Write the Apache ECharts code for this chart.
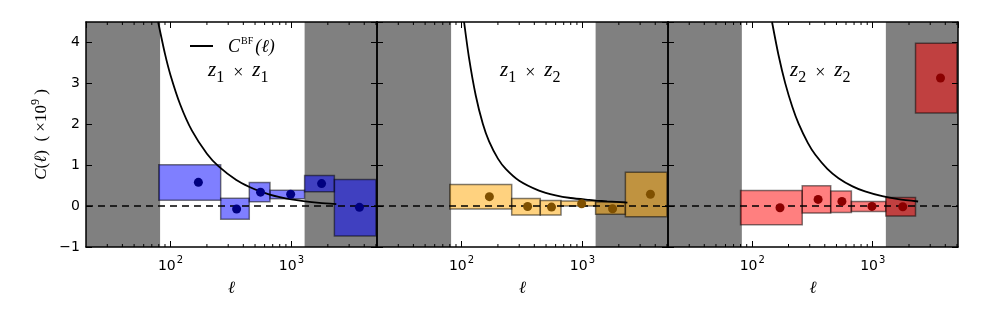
<!DOCTYPE html>
<html>
<head>
<meta charset="utf-8">
<script src="https://cdn.jsdelivr.net/npm/echarts@6/dist/echarts.min.js"></script>
<style>
html,body{margin:0;padding:0;background:#fff;}
#chart{width:981px;height:327px;}
</style>
</head>
<body>
<div id="chart"></div>
<script>
// ---------- data ----------
const ellCenters = [170, 352, 555, 985, 1775, 3650];
const binLo = [80, 260, 448, 665, 1285, 2265];
const binHi = [260, 448, 665, 1285, 2265, 5000];

const c11 = [0.58, -0.07, 0.34, 0.29, 0.55, -0.03];
const c11Lo = [0.14, -0.32, 0.105, 0.178, 0.35, -0.73];
const c11Hi = [1.01, 0.19, 0.578, 0.39, 0.748, 0.65];

const c12 = [0.23, -0.01, -0.024, 0.056, -0.065, 0.29];
const c12Lo = [-0.073, -0.22, -0.22, 0.0, -0.2, -0.26];
const c12Hi = [0.529, 0.187, 0.138, 0.125, 0.1, 0.83];

const c22 = [-0.04, 0.163, 0.114, -0.008, -0.016, 3.13];
const c22Lo = [-0.455, -0.171, -0.154, -0.13, -0.244, 2.276];
const c22Hi = [0.382, 0.496, 0.366, 0.114, 0.211, 3.98];

const bfEll11 = [79, 90, 100, 120, 150, 200, 250, 350, 450, 550, 662, 800, 1000, 1300, 1700, 2350];
const bfC11 = [4.5, 3.72, 3.2, 2.49, 1.85, 1.28, 0.97, 0.637, 0.466, 0.36, 0.283, 0.22, 0.163, 0.113, 0.078, 0.049];
const bfEll12 = [105, 115, 131, 150, 169, 200, 232, 300, 437, 600, 800, 1135, 1300, 1600, 2355];
const bfC12 = [4.5, 3.65, 2.71, 2.01, 1.58, 1.16, 0.91, 0.62, 0.38, 0.264, 0.198, 0.15, 0.135, 0.115, 0.085];
const bfEll22 = [146, 165, 188, 215, 243, 290, 334, 420, 520, 680, 863, 1200, 1626, 2380];
const bfC22 = [4.5, 3.70, 3.0, 2.43, 2.01, 1.54, 1.255, 0.911, 0.683, 0.482, 0.358, 0.241, 0.170, 0.112];

const maskLo = [20, 82];
const maskHi = [1285, 5100];

const xMin = 20, xMax = 5100;
const yMin = -1, yMax = 4.5;
const minorTicks = [30, 40, 50, 60, 70, 80, 90, 200, 300, 400, 500, 600, 700, 800, 900, 2000, 3000, 4000, 5000];
const panelLabels = [['1', '1'], ['1', '2'], ['2', '2']];
const legendName = 'CBF';

// ---------- styles ----------
const grids = [
  {left: 86, top: 22, width: 291, height: 225},
  {left: 377, top: 22, width: 291, height: 225},
  {left: 668, top: 22, width: 290, height: 225}
];
const boxFill = ['rgba(0,0,255,0.5)', 'rgba(255,165,0,0.5)', 'rgba(255,0,0,0.5)'];
const dotColor = ['#000080', '#7f5000', '#8b0000'];
const panels = [
  {c: c11, lo: c11Lo, hi: c11Hi, bx: bfEll11, by: bfC11},
  {c: c12, lo: c12Lo, hi: c12Hi, bx: bfEll12, by: bfC12},
  {c: c22, lo: c22Lo, hi: c22Hi, bx: bfEll22, by: bfC22}
];
const labelPos = [[208, 60], [500, 60], [790, 60]];

const mathFont = '"Liberation Serif", "DejaVu Serif", serif';
const sansFont = '"DejaVu Sans", sans-serif';

const axisLineStyle = {show: true, onZero: false, lineStyle: {color: '#000', width: 1.5}};
const axisTickStyle = {show: true, inside: true, length: 6, lineStyle: {color: '#000', width: 1}};

const xAxes = [], yAxes = [], series = [];
grids.forEach((g, i) => {
  xAxes.push({
    type: 'log', logBase: 10, min: xMin, max: xMax, gridIndex: i, z: 10, position: 'bottom',
    splitLine: {show: false}, axisLine: axisLineStyle, axisTick: axisTickStyle,
    name: '{l|ℓ}', nameLocation: 'middle', nameGap: 33,
    nameTextStyle: {rich: {l: {fontFamily: mathFont, fontStyle: 'italic', fontSize: 17, color: '#000'}}},
    axisLabel: {
      show: true, margin: 8, showMinLabel: false, showMaxLabel: false,
      formatter: v => '{b|10}{s|' + Math.round(Math.log10(v)) + '}',
      rich: {
        b: {fontFamily: sansFont, fontSize: 14, color: '#000', verticalAlign: 'bottom', lineHeight: 18},
        s: {fontFamily: sansFont, fontSize: 10, color: '#000', verticalAlign: 'top', lineHeight: 18, padding: [0, 0, 0, 1]}
      }
    }
  });
});
grids.forEach((g, i) => {
  xAxes.push({
    type: 'log', logBase: 10, min: xMin, max: xMax, gridIndex: i, z: 10, position: 'top',
    splitLine: {show: false}, axisLine: axisLineStyle, axisTick: axisTickStyle,
    axisLabel: {show: false}
  });
});
grids.forEach((g, i) => {
  yAxes.push({
    type: 'value', min: yMin, max: yMax, interval: 1, gridIndex: i, z: 10, position: 'left',
    splitLine: {show: false}, axisLine: axisLineStyle, axisTick: axisTickStyle,
    axisLabel: {
      show: i === 0, margin: 6, showMaxLabel: false,
      fontFamily: sansFont, fontSize: 14, color: '#000',
      formatter: v => (v < 0 ? '\u2212' + Math.abs(v) : String(v))
    },
    name: i === 0 ? '{i|C}{n|(}{i|ℓ}{n|)  ( ×10}{s|9}{n| )}' : '',
    nameLocation: 'middle', nameRotate: 90, nameGap: 36,
    nameTextStyle: {rich: {
      i: {fontFamily: mathFont, fontStyle: 'italic', fontSize: 17, color: '#000', verticalAlign: 'bottom', lineHeight: 20},
      n: {fontFamily: mathFont, fontSize: 17, color: '#000', verticalAlign: 'bottom', lineHeight: 20},
      s: {fontFamily: mathFont, fontSize: 12, color: '#000', verticalAlign: 'top', lineHeight: 20}
    }}
  });
});
grids.forEach((g, i) => {
  yAxes.push({
    type: 'value', min: yMin, max: yMax, interval: 1, gridIndex: i, z: 10, position: 'right',
    splitLine: {show: false}, axisLine: axisLineStyle, axisTick: axisTickStyle,
    axisLabel: {show: false}
  });
});

function rectItem(params, api, style) {
  const p0 = api.coord([api.value(0), api.value(3)]);
  const p1 = api.coord([api.value(1), api.value(2)]);
  const cs = params.coordSys;
  const shape = echarts.graphic.clipRectByRect(
    {x: p0[0], y: p0[1], width: p1[0] - p0[0], height: p1[1] - p0[1]},
    {x: cs.x, y: cs.y, width: cs.width, height: cs.height});
  return shape && {type: 'rect', shape: shape, style: style};
}

panels.forEach((p, i) => {
  series.push({
    type: 'custom', xAxisIndex: i, yAxisIndex: i, z: 1, silent: true,
    data: [[maskLo[0], maskLo[1], yMin, yMax], [maskHi[0], maskHi[1], yMin, yMax]],
    renderItem: (params, api) => rectItem(params, api, {fill: '#808080'})
  });
  series.push({
    type: 'custom', xAxisIndex: i, yAxisIndex: i, z: 2,
    data: binLo.map((lo, k) => [lo, binHi[k], p.lo[k], p.hi[k]]),
    renderItem: (params, api) => rectItem(params, api, {fill: boxFill[i], stroke: 'rgba(0,0,0,0.5)', lineWidth: 1.5})
  });
  series.push({
    type: 'line', xAxisIndex: i, yAxisIndex: i, z: 3, symbol: 'none', silent: true,
    data: [[xMin, 0], [xMax, 0]],
    lineStyle: {color: '#000', width: 1.5, type: [7, 5]}
  });
  series.push({
    type: 'line', name: i === 0 ? legendName : undefined, xAxisIndex: i, yAxisIndex: i, z: 4,
    symbol: 'none', smooth: 0.25,
    data: p.bx.map((x, k) => [x, p.by[k]]),
    lineStyle: {color: '#000', width: 1.8}, itemStyle: {color: '#000'}
  });
  series.push({
    type: 'scatter', xAxisIndex: i, yAxisIndex: i, z: 5, symbolSize: 9,
    data: ellCenters.map((x, k) => [x, p.c[k]]),
    itemStyle: {color: dotColor[i], opacity: 1}
  });
  series.push({
    type: 'custom', xAxisIndex: i, yAxisIndex: i, z: 11, silent: true,
    data: minorTicks.map(v => [v, 0]),
    renderItem: (params, api) => {
      const cs = params.coordSys;
      const x = api.coord([api.value(0), 0])[0];
      const st = {stroke: '#000', lineWidth: 1};
      return {type: 'group', children: [
        {type: 'line', shape: {x1: x, y1: cs.y + cs.height, x2: x, y2: cs.y + cs.height - 3}, style: st},
        {type: 'line', shape: {x1: x, y1: cs.y, x2: x, y2: cs.y + 3}, style: st}
      ]};
    }
  });
});

const graphics = panelLabels.map((lab, i) => ({
  type: 'text', x: labelPos[i][0], y: labelPos[i][1], z: 20,
  style: {
    text: '{z|z}{b|' + lab[0] + '}{x|  ×  }{z|z}{b|' + lab[1] + '}',
    rich: {
      z: {fontFamily: mathFont, fontStyle: 'italic', fontSize: 21, fill: '#000', verticalAlign: 'top', lineHeight: 20},
      b: {fontFamily: mathFont, fontSize: 16, fill: '#000', verticalAlign: 'bottom', lineHeight: 26},
      x: {fontFamily: mathFont, fontSize: 18, fill: '#000', verticalAlign: 'middle', lineHeight: 20}
    }
  }
}));

const chart = echarts.init(document.getElementById('chart'), null, {renderer: 'canvas'});
chart.setOption({
  animation: false,
  backgroundColor: '#fff',
  grid: grids,
  xAxis: xAxes,
  yAxis: yAxes,
  legend: {
    data: [legendName], left: 190, top: 36, padding: 0, icon: 'rect', itemWidth: 23, itemHeight: 2,
    formatter: () => '{c|C}{s|BF}{p|(ℓ)}',
    textStyle: {rich: {
      c: {fontFamily: mathFont, fontStyle: 'italic', fontSize: 18, color: '#000', padding: [0, 1, 0, 10], verticalAlign: 'bottom', lineHeight: 20},
      s: {fontFamily: mathFont, fontSize: 10, color: '#000', verticalAlign: 'top', lineHeight: 20, padding: [0, 2, 0, 0]},
      p: {fontFamily: mathFont, fontStyle: 'italic', fontSize: 18, color: '#000', verticalAlign: 'bottom', lineHeight: 20}
    }}
  },
  graphic: graphics,
  series: series
});
</script>
</body>
</html>
